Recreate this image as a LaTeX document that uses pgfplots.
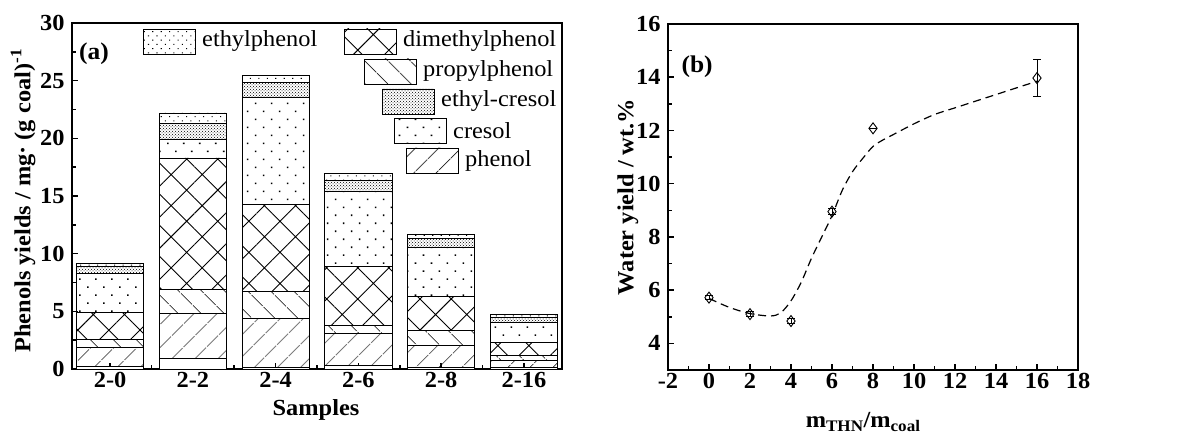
\documentclass[border=0pt]{standalone}
\usepackage{fontspec}
\setmainfont{Liberation Serif}[FakeStretch=1.06]
\usepackage{pgfplots}
\pgfplotsset{compat=1.18}
\usetikzlibrary{patterns,patterns.meta}

\tikzset{
 pBlank/.style={fill=white},
 pPhenol/.style={pattern={Lines[angle=45,distance=17pt,line width=0.9pt]}},
 pProp/.style={pattern={Lines[angle=-45,distance=17pt,line width=0.9pt]}},
 pDim/.style={pattern={Hatch[angle=45,distance=22pt,line width=0.9pt]}},
 pCres/.style={pattern={Dots[radius=1.1pt,distance=11.3pt,angle=45]}},
 pEC/.style={pattern=crosshatch dots},
 pEP/.style={pattern={Dots[radius=0.75pt,distance=6pt,angle=45]}},
}

\pgfplotsset{
 myaxis/.style={
  scale only axis, anchor=south west,
  axis line style={line width=2.4pt},
  tick align=inside, xtick pos=bottom, ytick pos=left,
  major tick length=6pt, minor tick length=4pt,
  major tick style={line width=1.6pt,black},
  minor tick style={line width=1.6pt,black},
  tick label style={font=\bfseries\fontsize{23}{27}\selectfont},
  yticklabel style={xshift=-4pt},
  /pgf/number format/assume math mode=true,
  label style={font=\bfseries\fontsize{23}{27}\selectfont},
 },
}

\begin{document}
\begin{tikzpicture}
\path[use as bounding box] (0,0) rectangle (1187pt,439pt);

\begin{axis}[myaxis,
 at={(72pt,70pt)}, width=490pt, height=346pt,
 xmin=-0.46, xmax=5.46, ymin=0, ymax=30,
 ybar stacked, bar width=0.81,
 xtick={0,...,5}, xticklabels={2-0,2-2,2-4,2-6,2-8,2-16},
 minor xtick={0.5,1.5,2.5,3.5,4.5},
 ytick={0,5,...,30}, minor ytick={2.5,7.5,...,27.5},
 xlabel={Samples},
 ylabel={Phenols yields / mg· (g coal)\textsuperscript{-1}},
 xlabel style={at={(rel axis cs:0.498,-0.118)}, anchor=center},
 ylabel style={at={(rel axis cs:-0.1,0.486)}, anchor=center, rotate=0},
]
\addplot[draw=black,line width=0.8pt,pBlank] coordinates {(0,0.22) (1,0.89) (2,0.10) (3,0.30) (4,0.15) (5,0.10)};
\addplot[draw=black,line width=0.8pt,pPhenol] coordinates {(0,1.67) (1,3.90) (2,4.26) (3,2.81) (4,1.89) (5,0.64)};
\addplot[draw=black,line width=0.8pt,pProp] coordinates {(0,0.64) (1,2.09) (2,2.39) (3,0.67) (4,1.30) (5,0.43)};
\addplot[draw=black,line width=0.8pt,pDim] coordinates {(0,2.40) (1,11.42) (2,7.53) (3,5.12) (4,2.95) (5,1.16)};
\addplot[draw=black,line width=0.8pt,pCres] coordinates {(0,3.33) (1,1.60) (2,9.31) (3,6.53) (4,4.23) (5,1.73)};
\addplot[draw=black,line width=0.8pt,pEC] coordinates {(0,0.66) (1,1.38) (2,1.22) (3,0.93) (4,0.78) (5,0.44)};
\addplot[draw=black,line width=0.8pt,pEP] coordinates {(0,0.26) (1,0.92) (2,0.61) (3,0.64) (4,0.38) (5,0.23)};
\node[font=\bfseries\fontsize{24}{28}\selectfont] at (rel axis cs:0.045,0.91) {(a)};
\end{axis}

% legend
\begin{scope}[line width=0.8pt]
\draw[pEP] (143pt,385pt) rectangle (195pt,410pt);
\draw[pDim] (344pt,385pt) rectangle (396pt,410pt);
\draw[pProp] (364pt,355pt) rectangle (416pt,380pt);
\draw[pEC] (382pt,325pt) rectangle (434pt,350pt);
\draw[pCres] (394pt,296pt) rectangle (446pt,321pt);
\draw[pPhenol] (406pt,266pt) rectangle (458pt,291pt);
\end{scope}
\begin{scope}[every node/.style={anchor=west,inner sep=0pt,font=\fontsize{23}{27}\selectfont}]
\node at (202pt,397.5pt) {ethylphenol};
\node at (403pt,397.5pt) {dimethylphenol};
\node at (423pt,367.5pt) {propylphenol};
\node at (441pt,337.5pt) {ethyl-cresol};
\node at (453pt,308.5pt) {cresol};
\node at (465pt,278.5pt) {phenol};
\end{scope}

\begin{axis}[myaxis,
 at={(668pt,69pt)}, width=410pt, height=346pt,
 xmin=-2, xmax=18, ymin=3, ymax=16,
 xtick={-2,0,...,18}, minor xtick={-1,1,...,17},
 ytick={4,6,...,16}, minor ytick={5,7,...,15},
 xlabel={m\textsubscript{THN}/m\textsubscript{coal}},
 ylabel={Water yield / wt.\%},
 xlabel style={at={(rel axis cs:0.476,-0.15)}, anchor=center},
 ylabel style={at={(rel axis cs:-0.0976,0.5)}, anchor=center, rotate=0},
]
\addplot[black, line width=1.2pt, dash pattern=on 8pt off 5pt, smooth] coordinates {
(0,5.69) (1,5.35) (2,5.12) (3,5.03) (3.5,5.15) (4,5.6) (4.5,6.3) (5,7.2) (5.5,8.0) (6,8.8) (6.5,9.75) (7,10.45) (7.5,10.95) (8,11.4) (8.5,11.65) (9,11.85) (10,12.25) (11,12.6) (12,12.85) (13,13.1) (14,13.35) (15,13.6) (16,13.85)};
\addplot[only marks, mark=diamond, mark size=5.5pt, mark options={fill=white,line width=0.9pt}, black,
 error bars/.cd, y dir=both, y explicit, error bar style={line width=0.9pt}, error mark options={rotate=90,mark size=4pt,line width=0.9pt}]
 coordinates {(0,5.72) +- (0,0.08) (2,5.10) +- (0,0.1) (4,4.84) +- (0,0.1) (6,8.95) +- (0,0.12) (8,12.08) +- (0,0) (16,13.97) +- (0,0.7)};
\node[font=\bfseries\fontsize{24}{28}\selectfont] at (rel axis cs:0.071,0.876) {(b)};
\end{axis}
\end{tikzpicture}
\end{document}
